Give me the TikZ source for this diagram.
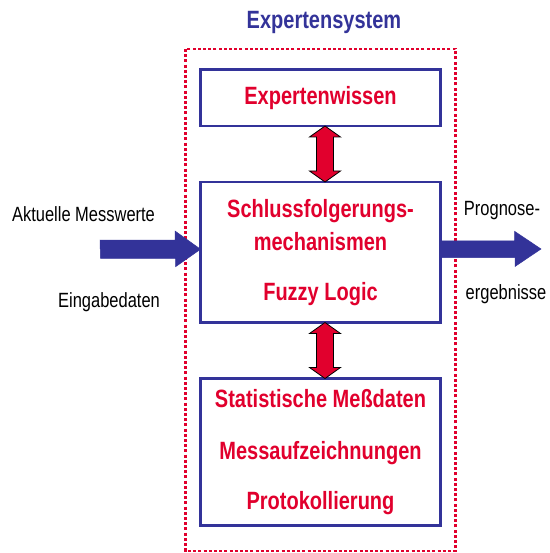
\documentclass[tikz,border=0pt]{standalone}
\usepackage{fontspec}
\setmainfont{Liberation Sans}
\newfontfamily\narrow[FakeStretch=0.8]{Liberation Sans}
\usetikzlibrary{positioning}
\definecolor{xblue}{RGB}{51,51,153}
\definecolor{xred}{RGB}{225,0,45}
\begin{document}
\begin{tikzpicture}[x=1pt,y=-1pt,
    box/.style={draw=xblue,line width=2.4pt,minimum width=240pt,outer sep=0pt,inner sep=0pt,align=center,text=xred,font=\narrow\bfseries\fontsize{25}{33}\selectfont},
    lbl/.style={anchor=base,font=\narrow\fontsize{20.6}{24}\selectfont},
    bigarrow/.style={fill=xblue,draw=xblue,line width=0.5pt},
    dblarrow/.style={fill=xred,draw=black,line width=0.8pt},
    frame/.style={draw=xred,line width=2.6pt,dash pattern=on 3pt off 2.2pt}]
    \useasboundingbox (0,0) rectangle (549,553);
    %\draw[help lines,step=50pt] (0,0) grid (549,553);
    \draw[frame] (185.5,49) rectangle (455.5,551);
    \node[anchor=base,text=xblue,font=\narrow\bfseries\fontsize{25}{28}\selectfont] (titel) at (324,29) {Expertensystem};
    \node[box,minimum height=56.5pt] (wissen) at (320.5,97.75) {Expertenwissen};
    \node[box,minimum height=140.5pt,below=56pt of wissen] (schluss) {Schlussfolgerungs-\\mechanismen\\[17pt]Fuzzy Logic};
    \node[box,minimum height=147pt,below=56pt of schluss] (daten) {Statistische Meßdaten\\[19pt]Messaufzeichnungen\\[17pt]Protokollierung};
    \foreach \a/\b in {wissen/schluss,schluss/daten}
    \draw[dblarrow] ([xshift=4.5pt]\a.south) -- ++(15.5,11) -- ++(-7,0) -- ++(0,34) -- ++(7,0) -- ([xshift=4.5pt]\b.north)
        -- ++(-15.5,-11) -- ++(7,0) -- ++(0,-34) -- ++(-7,0) -- cycle;
    \coordinate (ein) at (100,249);
    \coordinate (aus) at (541,249);
    \draw[bigarrow] (ein) ++(0,-9) -- ++(75,0) -- ++(0,-9) -- ([yshift=3pt]schluss.west) -- ++(-25,17.5) -- ++(0,-8.5) -- ++(-75,0) -- cycle;
    \draw[bigarrow] ([yshift=3pt]schluss.east) ++(0,-8.5) -- ++(74,0) -- ++(0,-9.5) -- (aus) -- ++(-26,17.5) -- ++(0,-9) -- ++(-74,0) -- cycle;
    \node[lbl] (mess) at (83.5,222) {Aktuelle Messwerte};
    \node[lbl] (eingabe) at (109,307) {Eingabedaten};
    \node[lbl] (prog) at (502,215) {Prognose-};
    \node[lbl] (erg) at (506,299) {ergebnisse};
\end{tikzpicture}
\end{document}
